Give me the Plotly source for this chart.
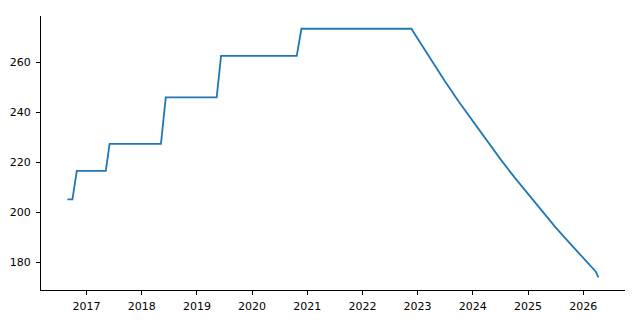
import plotly.graph_objects as go

dates = [
    "2016-08-27", "2016-09-29", "2016-10-28", "2017-05-08", "2017-06-02",
    "2018-05-08", "2018-06-09", "2019-05-12", "2019-06-10", "2020-10-23",
    "2020-11-23", "2022-11-21",
    "2023-01-01", "2023-04-01", "2023-07-01", "2023-10-01",
    "2024-01-01", "2024-04-01", "2024-07-01", "2024-10-01",
    "2025-01-01", "2025-04-01", "2025-07-01", "2025-10-01",
    "2026-01-01", "2026-03-25", "2026-04-12",
]
values = [
    205.1, 205.1, 216.5, 216.5, 227.3,
    227.3, 245.9, 245.9, 262.5, 262.5,
    273.3, 273.3,
    269.4, 260.7, 252.3, 244.1,
    236.3, 228.6, 221.3, 214.1,
    207.2, 200.5, 194.0, 187.8,
    181.7, 176.3, 173.9,
]
y_ticks = [180, 200, 220, 240, 260]

fig = go.Figure()
fig.add_trace(go.Scatter(x=dates, y=values, mode="lines",
                         line=dict(color="#1f77b4", width=1.8), hoverinfo="skip"))

axis_common = dict(showline=True, linecolor="black", linewidth=1,
                   ticks="outside", ticklen=4, tickcolor="black", tickwidth=1,
                   showgrid=False, zeroline=False, automargin=False,
                   tickfont=dict(family="DejaVu Sans", size=11, color="black"))

fig.update_layout(
    width=640, height=320,
    margin=dict(l=41, r=15, t=16, b=30, pad=0),
    paper_bgcolor="white", plot_bgcolor="white",
    showlegend=False,
    xaxis=dict(type="date", range=["2016-03-05", "2026-10-05"],
               tick0="2017-01-01", dtick="M12", tickformat="%Y",
               ticklabelstandoff=2, **axis_common),
    yaxis=dict(range=[168.9, 278.4], tickmode="array", tickvals=y_ticks,
               ticktext=[str(v) for v in y_ticks], ticklabelstandoff=3,
               **axis_common),
)
fig.write_html("out.html")
